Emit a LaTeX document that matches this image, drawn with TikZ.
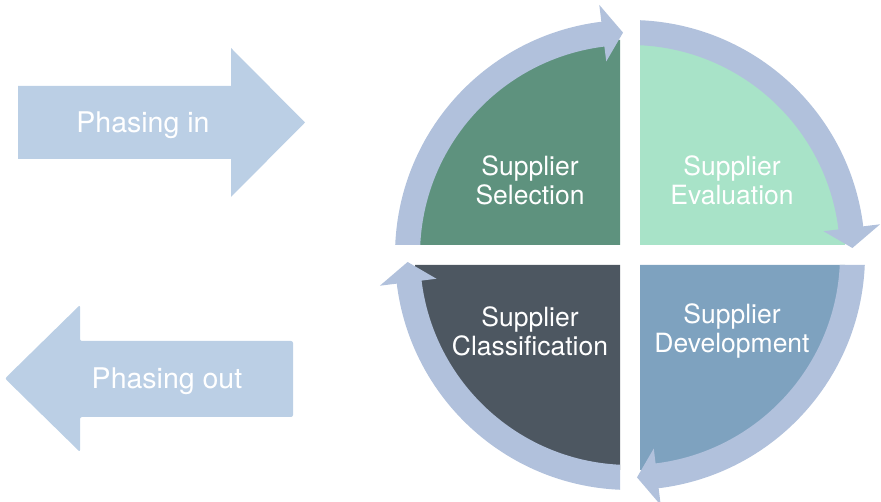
\documentclass[tikz,border=0pt]{standalone}
\usepackage{fontspec}
\setmainfont{TeX Gyre Heros}
\usetikzlibrary{calc}
\definecolor{ringc}{RGB}{177,193,220}
\definecolor{bigc}{RGB}{187,207,229}
\definecolor{qtl}{RGB}{94,146,126}
\definecolor{qtr}{RGB}{168,227,200}
\definecolor{qbr}{RGB}{126,162,191}
\definecolor{qbl}{RGB}{77,87,97}
\tikzset{
  quadtext/.style={text=white, align=center, font=\fontsize{26.5}{29}\selectfont},
  bigtext/.style={text=white, font=\fontsize{28.5}{32}\selectfont},
}
\begin{document}
\begin{tikzpicture}[x=1pt,y=1pt]
\useasboundingbox (0,0) rectangle (881,502);
\coordinate (c) at (630,247);
% quadrant fills
\fill[qtl] (620,257) -- ++(-205,0) arc[start angle=180,end angle=90,radius=205] -- cycle;
\fill[qtr] (640,257) -- ++(0,205) arc[start angle=90,end angle=0,radius=205] -- cycle;
\fill[qbr] (640,237) -- ++(205,0) arc[start angle=0,end angle=-90,radius=205] -- cycle;
\fill[qbl] (620,237) -- ++(0,-205) arc[start angle=270,end angle=180,radius=205] -- cycle;
% circular arrows
\foreach \r in {0,-90,-180,-270}{
  \pgfmathsetmacro{\ao}{177.56+\r}
  \pgfmathsetmacro{\ai}{177.27+\r}
  \pgfmathsetmacro{\ab}{97+\r}
  \pgfmathsetmacro{\at}{91.8+\r}
  \fill[ringc] ($(c)+(\ao:235)$) arc[start angle=\ao,end angle=\ab,radius=235]
     -- ($(c)+(\ab:252)$) -- ($(c)+(\at:222.5)$) -- ($(c)+(\ab:195)$)
     -- ($(c)+(\ab:210)$) arc[start angle=\ab,end angle=\ai,radius=210] -- cycle;
}
% quadrant labels
\node[quadtext] (sel) at (530,322) {Supplier\\Selection};
\node[quadtext] (eva) at (732,322) {Supplier\\Evaluation};
\node[quadtext] (cla) at (530,171) {Supplier\\Classification};
\node[quadtext] (dev) at (732,171) {Supplier\\Development};
% big arrows
\fill[bigc] (18,343) -- (231,343) -- (231,305) -- (305,379.5) -- (231,454) -- (231,416) -- (18,416) -- cycle;
\node[bigtext] (pin) at (143,377) {Phasing in};
\fill[bigc, rounded corners=2pt] (293,85) -- (80,85) -- (80,50) -- (5,123.5) -- (80,197) -- (80,161) -- (293,161) -- cycle;
\node[bigtext] (pout) at (167,120.5) {Phasing out};
\end{tikzpicture}
\end{document}
